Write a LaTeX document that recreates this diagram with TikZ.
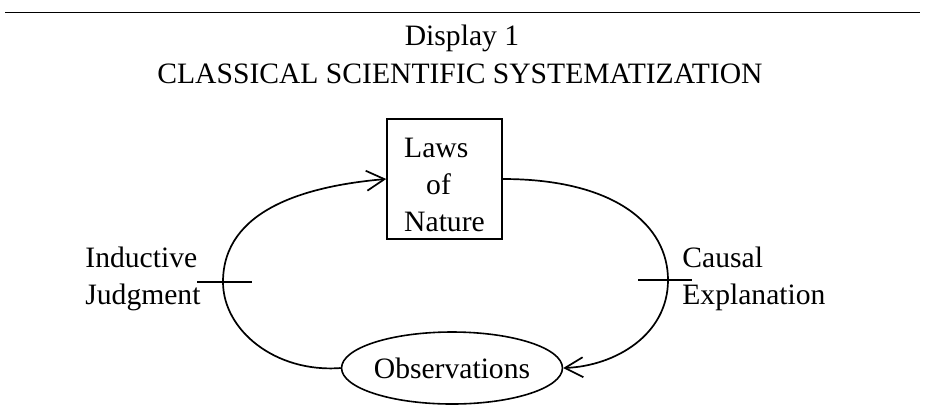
\documentclass[tikz,border=0pt]{standalone}
\usepackage{fontspec}
\setmainfont{Liberation Serif}
\usetikzlibrary{arrows.meta,positioning,shapes.geometric}

\begin{document}
\begin{tikzpicture}[x=0.5pt,y=-0.5pt]
\tikzset{every node/.style={font=\fontsize{14.8}{18.5}\selectfont, inner sep=0pt}}
\tikzset{cycle edge/.style={draw, line width=0.85pt, -{Straight Barb[length=9pt,width=10pt]}}}
\tikzset{crossbar/.style={draw, line width=0.7pt}}
\useasboundingbox (0,0) rectangle (925,414);
% heading
\coordinate (ruleL) at (5,12);
\coordinate (ruleR) at (920,12);
\draw[line width=0.5pt] (ruleL) -- (ruleR);
\node[anchor=base] (disp) at (462,45) {Display 1};
\node[anchor=base] (title) at (460,83) {CLASSICAL SCIENTIFIC SYSTEMATIZATION};
% laws and observations
\node[draw, line width=0.8pt, minimum width=57.5pt, minimum height=60pt, align=left] (laws) at (444.5,179)
  {\rule{0pt}{16pt}Laws\\\hspace*{11pt}of\\Nature};
\node[draw, ellipse, line width=0.8pt, minimum width=109pt, minimum height=36pt] (obs) at (452,368) {Observations};
% the cycle
\draw[cycle edge] (obs.west) .. controls (275,373) and (223,330) .. (223,282) coordinate (indL)
  .. controls (223,210) and (305,186) .. (laws.west);
\draw[cycle edge] (laws.east) .. controls (615,179) and (668,225) .. (668,280) coordinate (cauR)
  .. controls (668,335) and (615,366) .. (obs.east);
\draw[crossbar] (indL) ++(-26,0) -- ++(55,0);
\draw[crossbar] (cauR) ++(-30,0) -- ++(54,0);
\node[anchor=west, align=left] (ind) at (85,279) {Inductive\\Judgment};
\node[anchor=west, align=left] (cau) at (682,279) {Causal\\Explanation};
\end{tikzpicture}
\end{document}
